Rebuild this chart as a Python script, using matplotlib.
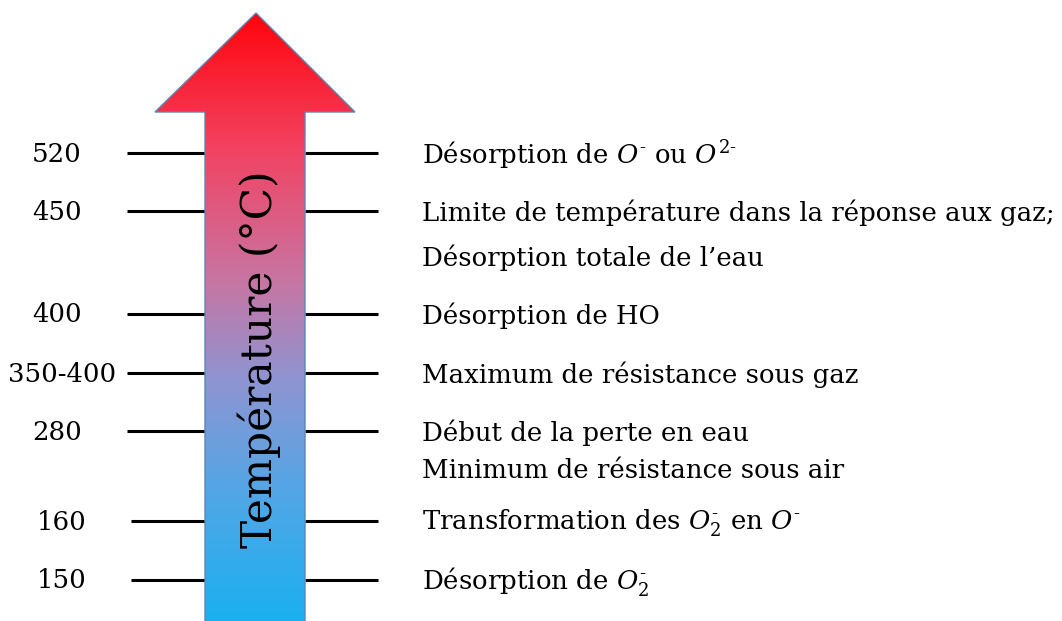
import matplotlib
matplotlib.use("Agg")
import matplotlib.pyplot as plt
import numpy as np
from matplotlib.patches import Polygon
from matplotlib.colors import LinearSegmentedColormap

# ---- data ----
temperatures = ["520", "450", "400", "350-400", "280", "160", "150"]
descriptions = [
    r"Désorption de $O^{\text{-}}$ ou $O^{\mathit{2}\text{-}}$",
    "Limite de température dans la réponse aux gaz;",
    "Désorption de HO",
    "Maximum de résistance sous gaz",
    "Début de la perte en eau",
    r"Transformation des $O_{\mathit{2}}^{\text{-}}$ en $O^{\text{-}}$",
    r"Désorption de $O_{\mathit{2}}^{\text{-}}$",
]
second_lines = ["", "Désorption totale de l’eau", "", "", "Minimum de résistance sous air", "", ""]
axis_title = "Température (°C)"

# ---- layout (pixel coordinates) ----
W, H = 1062, 621
level_y = [153, 211, 314, 373, 431, 521, 580]
second_dy = [0, 45, 0, 0, 38, 0, 0]
left_x0 = [127, 127, 127, 127, 127, 131, 131]
label_cx = [57, 57, 57, 62, 57, 62, 62]

plt.rcParams["font.family"] = ["DejaVu Serif"]
plt.rcParams["mathtext.fontset"] = "dejavuserif"

fig = plt.figure(figsize=(W / 100, H / 100), dpi=100)
ax = fig.add_axes([0, 0, 1, 1])
ax.set_xlim(0, W)
ax.set_ylim(H, 0)
ax.axis("off")

# arrow
shaft_l, shaft_r = 205, 305
head_l, head_r, head_y, tip_x, tip_y = 155, 355, 112, 256, 13
verts = [(shaft_l, H + 2), (shaft_l, head_y), (head_l, head_y), (tip_x, tip_y),
         (head_r, head_y), (shaft_r, head_y), (shaft_r, H + 2)]
cmap = LinearSegmentedColormap.from_list("temp", [
    (0.0, (0.10, 0.69, 0.94)),
    (0.22, (0.33, 0.65, 0.90)),
    (0.40, (0.56, 0.58, 0.82)),
    (0.56, (0.78, 0.46, 0.64)),
    (0.78, (0.95, 0.26, 0.38)),
    (1.0, (1.0, 0.02, 0.05)),
])
grad = np.linspace(0, 1, 256).reshape(-1, 1)
im = ax.imshow(grad, cmap=cmap, origin="lower", aspect="auto",
               extent=[head_l, head_r, H + 2, tip_y], zorder=1)
arrow = Polygon(verts, closed=True, facecolor="none", edgecolor="#5b87b5", lw=1.0, zorder=2)
ax.add_patch(arrow)
im.set_clip_path(arrow)

ax.text(259, 359, axis_title, rotation=90, ha="center", va="center",
        fontsize=30.5, color="black", zorder=3)

fs = 18.7
for i, t in enumerate(temperatures):
    y = level_y[i]
    ax.plot([left_x0[i], shaft_l], [y, y], color="black", lw=2.2, solid_capstyle="butt", zorder=0)
    ax.plot([shaft_r, 378], [y, y], color="black", lw=2.2, solid_capstyle="butt", zorder=0)
    ax.text(label_cx[i], y + 1, t, ha="center", va="center", fontsize=fs)
    ax.text(422, y + 2, descriptions[i], ha="left", va="center", fontsize=fs)
    if second_lines[i]:
        ax.text(422, y + 2 + second_dy[i], second_lines[i], ha="left", va="center", fontsize=fs)

fig.savefig("out.png", dpi=100)
